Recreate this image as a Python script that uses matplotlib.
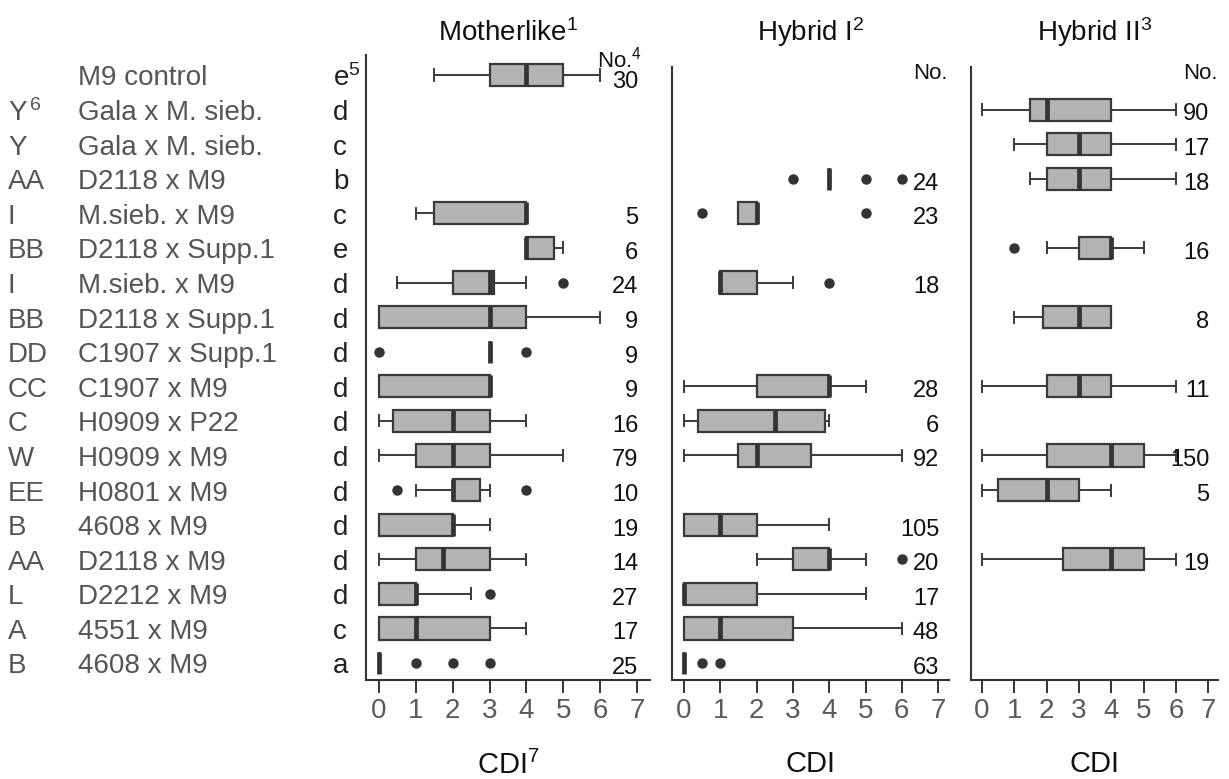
import matplotlib
matplotlib.use('Agg')
import matplotlib.pyplot as plt
from matplotlib.transforms import blended_transform_factory

plt.rcParams['font.family'] = ['Liberation Sans', 'DejaVu Sans']
plt.rcParams['mathtext.fontset'] = 'custom'
plt.rcParams['mathtext.rm'] = 'Liberation Sans'
plt.rcParams['mathtext.it'] = 'Liberation Sans'
plt.rcParams['mathtext.default'] = 'regular'

# ---------------- data ----------------
codes = ['', 'Y', 'Y', 'AA', 'I', 'BB', 'I', 'BB', 'DD', 'CC', 'C', 'W', 'EE',
         'B', 'AA', 'L', 'A', 'B']
strains = ['M9 control', 'Gala x M. sieb.', 'Gala x M. sieb.', 'D2118 x M9',
           'M.sieb. x M9', 'D2118 x Supp.1', 'M.sieb. x M9', 'D2118 x Supp.1',
           'C1907 x Supp.1', 'C1907 x M9', 'H0909 x P22', 'H0909 x M9',
           'H0801 x M9', '4608 x M9', 'D2118 x M9', 'D2212 x M9', '4551 x M9',
           '4608 x M9']
sig_letters = ['e', 'd', 'c', 'b', 'c', 'e', 'd', 'd', 'd', 'd', 'd', 'd', 'd',
               'd', 'd', 'd', 'c', 'a']

panel_titles = ['Motherlike', 'Hybrid I', 'Hybrid II']
title_notes = ['1', '2', '3']
x_ticks = [0, 1, 2, 3, 4, 5, 6, 7]

# Motherlike
m_rows = [0, 4, 5, 6, 7, 8, 9, 10, 11, 12, 13, 14, 15, 16, 17]
m_lo = [1.5, 1, 4, 0.5, 0, 3, 0, 0, 0, 1, 0, 0, 0, 0, 0]
m_q1 = [3, 1.5, 4, 2, 0, 3, 0, 0.375, 1, 2, 0, 1, 0, 0, 0]
m_med = [4, 4, 4, 3, 3, 3, 3, 2, 2, 2, 2, 1.75, 1, 1, 0]
m_q3 = [5, 4, 4.75, 3.125, 4, 3, 3, 3, 3, 2.75, 2, 3, 1, 3, 0]
m_hi = [6, 4, 5, 4, 6, 3, 3, 4, 5, 3, 3, 4, 2.5, 4, 0]
m_fliers = [[], [], [], [5], [], [0, 4], [], [], [], [0.5, 4], [], [], [3], [],
            [1, 2, 3]]
m_n = [30, 5, 6, 24, 9, 9, 9, 16, 79, 10, 19, 14, 27, 17, 25]

# Hybrid I
h1_rows = [3, 4, 6, 9, 10, 11, 13, 14, 15, 16, 17]
h1_lo = [4, 1.5, 1, 0, 0, 0, 0, 2, 0, 0, 0]
h1_q1 = [4, 1.5, 1, 2, 0.375, 1.5, 0, 3, 0, 0, 0]
h1_med = [4, 2, 1, 4, 2.5, 2, 1, 4, 0, 1, 0]
h1_q3 = [4, 2, 2, 4, 3.875, 3.5, 2, 4, 2, 3, 0]
h1_hi = [4, 2, 3, 5, 4, 6, 4, 5, 5, 6, 0]
h1_fliers = [[3, 5, 6], [0.5, 5], [4], [], [], [], [], [6], [], [], [0.5, 1]]
h1_n = [24, 23, 18, 28, 6, 92, 105, 20, 17, 48, 63]

# Hybrid II
h2_rows = [1, 2, 3, 5, 7, 9, 11, 12, 14]
h2_lo = [0, 1, 1.5, 2, 1, 0, 0, 0, 0]
h2_q1 = [1.5, 2, 2, 3, 1.875, 2, 2, 0.5, 2.5]
h2_med = [2, 3, 3, 4, 3, 3, 4, 2, 4]
h2_q3 = [4, 4, 4, 4, 4, 4, 5, 3, 5]
h2_hi = [6, 6, 6, 5, 4, 6, 6, 4, 6]
h2_fliers = [[], [], [], [1], [], [], [], [], []]
h2_n = [90, 17, 18, 16, 8, 11, 150, 5, 19]

panels = [
    (m_rows, m_lo, m_q1, m_med, m_q3, m_hi, m_fliers, m_n),
    (h1_rows, h1_lo, h1_q1, h1_med, h1_q3, h1_hi, h1_fliers, h1_n),
    (h2_rows, h2_lo, h2_q1, h2_med, h2_q3, h2_hi, h2_fliers, h2_n),
]

# ---------------- layout ----------------
W, H = 1229, 779
fig = plt.figure(figsize=(W / 100, H / 100), dpi=100)


def fx(px):
    return px / W


def fy(py):
    return 1 - py / H


row_px0, row_step = 75.0, 34.59
bottom_px = 680
# (left px, right px, top px, xlim)
geoms = [
    (366, 650, 55, (-0.35, 7.35)),
    (672, 949, 67, (-0.33, 7.30)),
    (971, 1218, 67, (-0.34, 7.30)),
]

axes = []
for (lpx, rpx, tpx, xl) in geoms:
    ax = fig.add_axes([fx(lpx), fy(bottom_px), (rpx - lpx) / W, (bottom_px - tpx) / H])
    ax.set_xlim(*xl)
    ytop = -(row_px0 - tpx) / row_step
    ybot = 17 + (bottom_px - (row_px0 + 17 * row_step)) / row_step
    ax.set_ylim(ybot, ytop)
    axes.append(ax)

edge = '#3a3a3a'
for i, (ax, data) in enumerate(zip(axes, panels)):
    rows, lo, q1, med, q3, hi, fl, ns = data
    stats = [dict(whislo=a, q1=b, med=c, q3=d, whishi=e, fliers=f)
             for a, b, c, d, e, f in zip(lo, q1, med, q3, hi, fl)]
    ax.bxp(stats, positions=rows, widths=0.64, orientation='horizontal',
           patch_artist=True, manage_ticks=False,
           boxprops=dict(facecolor='#b3b3b3', edgecolor=edge, linewidth=1.6),
           medianprops=dict(color='#333333', linewidth=3.4, solid_capstyle='butt'),
           whiskerprops=dict(color=edge, linewidth=1.4),
           capprops=dict(color=edge, linewidth=1.4),
           flierprops=dict(marker='o', markerfacecolor='#333333',
                           markeredgecolor='#333333', markersize=6.5))
    for r, n in zip(rows, ns):
        dy = 0.2 if (i == 0 and r == 0) else 0.14
        ax.text(7.03, r + dy, str(n), ha='right', va='center', fontsize=17,
                color='#111111')
    for s in ['top', 'right']:
        ax.spines[s].set_visible(False)
    for s in ['left', 'bottom']:
        ax.spines[s].set_color('#333333')
        ax.spines[s].set_linewidth(1.5)
    ax.set_yticks([])
    ax.set_xticks(x_ticks)
    ax.tick_params(axis='x', direction='out', length=9, width=1.4,
                   color='#333333', labelsize=20, labelcolor='#5a5a5a', pad=4)
    xlabel = 'CDI$^{7}$' if i == 0 else 'CDI'
    ax.set_xlabel(xlabel, fontsize=21, color='#111111', labelpad=19)
    cx = (geoms[i][0] + geoms[i][1]) / 2
    fig.text(fx(cx), fy(41), panel_titles[i] + '$^{' + title_notes[i] + '}$',
             ha='center', va='baseline', fontsize=20, color='#111111')

# "No." headers
axes[0].text(7.12, -0.46, 'No.$^{4}$', ha='right', va='center', fontsize=16,
             color='#111111')
axes[1].text(7.27, -0.03, 'No.', ha='right', va='center', fontsize=16,
             color='#111111')
axes[2].text(7.28, -0.03, 'No.', ha='right', va='center', fontsize=16,
             color='#111111')

# left row labels
tr = blended_transform_factory(fig.transFigure, axes[0].transData)
for r in range(len(strains)):
    code = codes[r] + ('$^{\\,6}$' if r == 1 else '')
    fig_y = r + 0.1
    axes[0].text(fx(8), fig_y, code, transform=tr, ha='left', va='center',
                 fontsize=20, color='#555555', clip_on=False)
    axes[0].text(fx(78), fig_y, strains[r], transform=tr, ha='left', va='center',
                 fontsize=20, color='#555555', clip_on=False)
    sig = sig_letters[r] + ('$^{5}$' if r == 0 else '')
    axes[0].text(fx(333), fig_y, sig, transform=tr, ha='left', va='center',
                 fontsize=20, color='#222222', clip_on=False)

fig.savefig('out.png', dpi=100)
